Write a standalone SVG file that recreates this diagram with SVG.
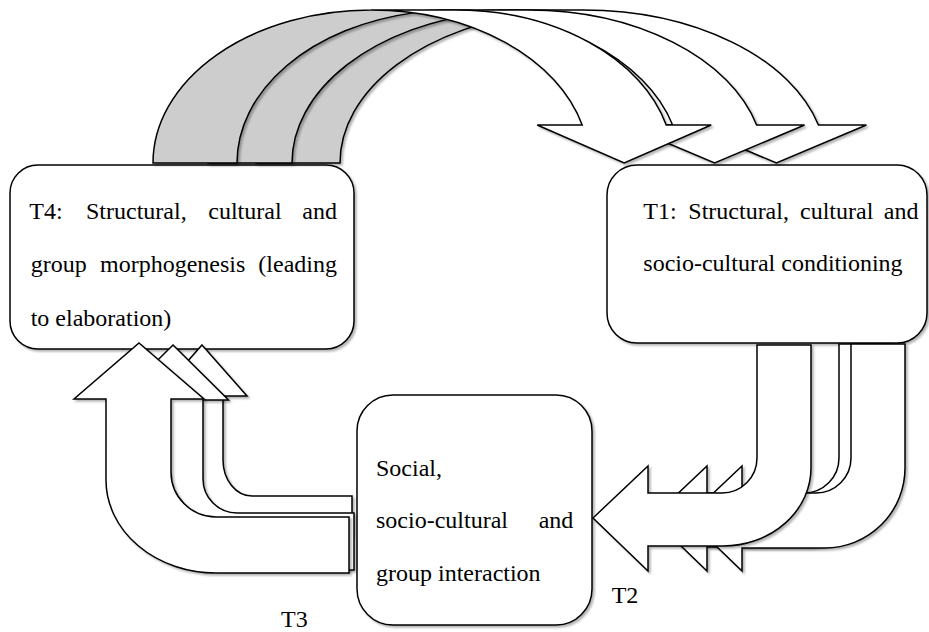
<svg xmlns="http://www.w3.org/2000/svg" width="929" height="632" viewBox="0 0 929 632">
  <defs>
    <filter id="sh" x="-10%" y="-10%" width="120%" height="120%">
      <feGaussianBlur in="SourceAlpha" stdDeviation="0.8"/>
      <feOffset dx="1.5" dy="2" result="o"/>
      <feComponentTransfer><feFuncA type="linear" slope="0.3"/></feComponentTransfer>
      <feMerge><feMergeNode/><feMergeNode in="SourceGraphic"/></feMerge>
    </filter>
  </defs>
  <style>
    .sh { filter: url(#sh); }
    .box { fill: #fff; stroke: #000; stroke-width: 1.5; }
    .band { fill: #fff; stroke: none; }
    .tail { fill: #cdcdcd; stroke: none; }
    .ol { fill: none; stroke: #000; stroke-width: 1.5; stroke-linejoin: miter; }
    .arr { fill: #fff; stroke: #000; stroke-width: 1.5; stroke-linejoin: miter; }
    text { font-family: "Liberation Serif", "Times New Roman", serif; font-size: 24px; fill: #000; }
    .e { text-anchor: end; }
  </style>

  <!-- stage boxes -->
  <g id="t4" font-family="Liberation Serif, serif">
    <rect class="box sh" x="10" y="165" width="344" height="184" rx="28" ry="28"/>
    <text x="29.3" y="219">T4:</text>
    <text x="86" y="219">Structural,</text>
    <text x="208.3" y="219">cultural</text>
    <text class="e" x="337" y="219">and</text>
    <text x="30.7" y="272">group</text>
    <text x="100" y="272">morphogenesis</text>
    <text class="e" x="337" y="272">(leading</text>
    <text x="30.7" y="326">to elaboration)</text>
  </g>

  <g id="t1" font-family="Liberation Serif, serif">
    <rect class="box sh" x="607" y="165" width="320" height="178" rx="30" ry="30"/>
    <text x="643.3" y="219">T1:</text>
    <text x="688.3" y="219">Structural,</text>
    <text x="800" y="219">cultural</text>
    <text class="e" x="918.5" y="219">and</text>
    <text x="643.3" y="271">socio-cultural conditioning</text>
  </g>

  <g id="interaction" font-family="Liberation Serif, serif">
    <rect class="box sh" x="357" y="395" width="235" height="230" rx="36" ry="36"/>
    <text x="376" y="476">Social,</text>
    <text x="376" y="528">socio-cultural</text>
    <text class="e" x="573.3" y="528">and</text>
    <text x="376" y="581">group interaction</text>
  </g>

  <g id="connectors">
    <!-- curved arrows T4 -> T1 (back to front) -->
    <g class="sh">
      <path class="band" d="M686.4,125 L734.4,125 A243,153 0 0 0 499,10 L583,10 A243,153 0 0 1 818.4,125 L866.4,125 L776.4,163 Z"/>
      <path class="tail" d="M541,12.3 A243,153 0 0 0 340,163 L256,163 A243,153 0 0 1 541,12.3 Z"/>
      <path class="ol" d="M541,12.3 A243,153 0 0 0 340,163 L256,163 A243,153 0 0 1 499,10 L583,10 A243,153 0 0 1 818.4,125 L866.4,125 L776.4,163 L686.4,125 L734.4,125 A243,153 0 0 0 499,10"/>
    </g>
    <g class="sh">
      <path class="band" d="M624.6,125 L672.6,125 A236,153 0 0 0 444,10 L528,10 A236,153 0 0 1 756.6,125 L804.6,125 L714.6,163 Z"/>
      <path class="tail" d="M486,12.44 A236,153 0 0 0 292,163 L208,163 A236,153 0 0 1 486,12.44 Z"/>
      <path class="ol" d="M486,12.44 A236,153 0 0 0 292,163 L208,163 A236,153 0 0 1 444,10 L528,10 A236,153 0 0 1 756.6,125 L804.6,125 L714.6,163 L624.6,125 L672.6,125 A236,153 0 0 0 444,10"/>
    </g>
    <g class="sh">
      <path class="band" d="M537.2,125 L582.2,125 A218,153 0 0 0 371,10 L455,10 A218,153 0 0 1 666.2,125 L711.2,125 L624.2,163 Z"/>
      <path class="tail" d="M413,12.87 A218,153 0 0 0 237,163 L153,163 A218,153 0 0 1 413,12.87 Z"/>
      <path class="ol" d="M413,12.87 A218,153 0 0 0 237,163 L153,163 A218,153 0 0 1 371,10 L455,10 A218,153 0 0 1 666.2,125 L711.2,125 L624.2,163 L537.2,125 L582.2,125 A218,153 0 0 0 371,10"/>
    </g>

    <!-- bent arrows T1 -> interaction (back to front) -->
    <path class="arr sh" d="M652,518 L707,466 L707,493 L804,493 A35,35 0 0 0 839,458 L839,344 L893,344 L893,468 A88,79 0 0 1 805,547 L707,547 L707,571 Z"/>
    <path class="arr sh" d="M687,518 L742,466 L742,493 L816,493 A35,35 0 0 0 851,458 L851,344 L905,344 L905,468 A80,80 0 0 1 825,548 L742,548 L742,571 Z"/>
    <path class="arr sh" d="M593,518 L648,466 L648,493 L722,493 A35,35 0 0 0 757,458 L757,345 L811,345 L811,468 A88,78 0 0 1 723,546 L648,546 L648,571 Z"/>

    <!-- bent arrows interaction -> T4 (back to front) -->
    <path class="arr sh" d="M202,345 L247,396 L223,396 L223,460 A29,36 0 0 0 252,496 L352,496 L352,536 L252,536 A71,76 0 0 1 181,460 L181,396 L157,396 Z"/>
    <path class="arr sh" d="M173,345 L228.5,400 L203,400 L203,479 A34,34 0 0 0 237,513 L354,513 L354,570 L237,570 A94,91 0 0 1 143,479 L143,400 L117.5,400 Z"/>
    <path class="arr sh" d="M139,343 L204,399 L171,399 L171,472 A45,45 0 0 0 216,517 L349,517 L349,573 L216,573 A110,93 0 0 1 106,480 L106,399 L74,399 Z"/>
  </g>

  <g id="labels" font-family="Liberation Serif, serif">
    <text x="611.7" y="603">T2</text>
    <text x="281" y="627">T3</text>
  </g>
</svg>
